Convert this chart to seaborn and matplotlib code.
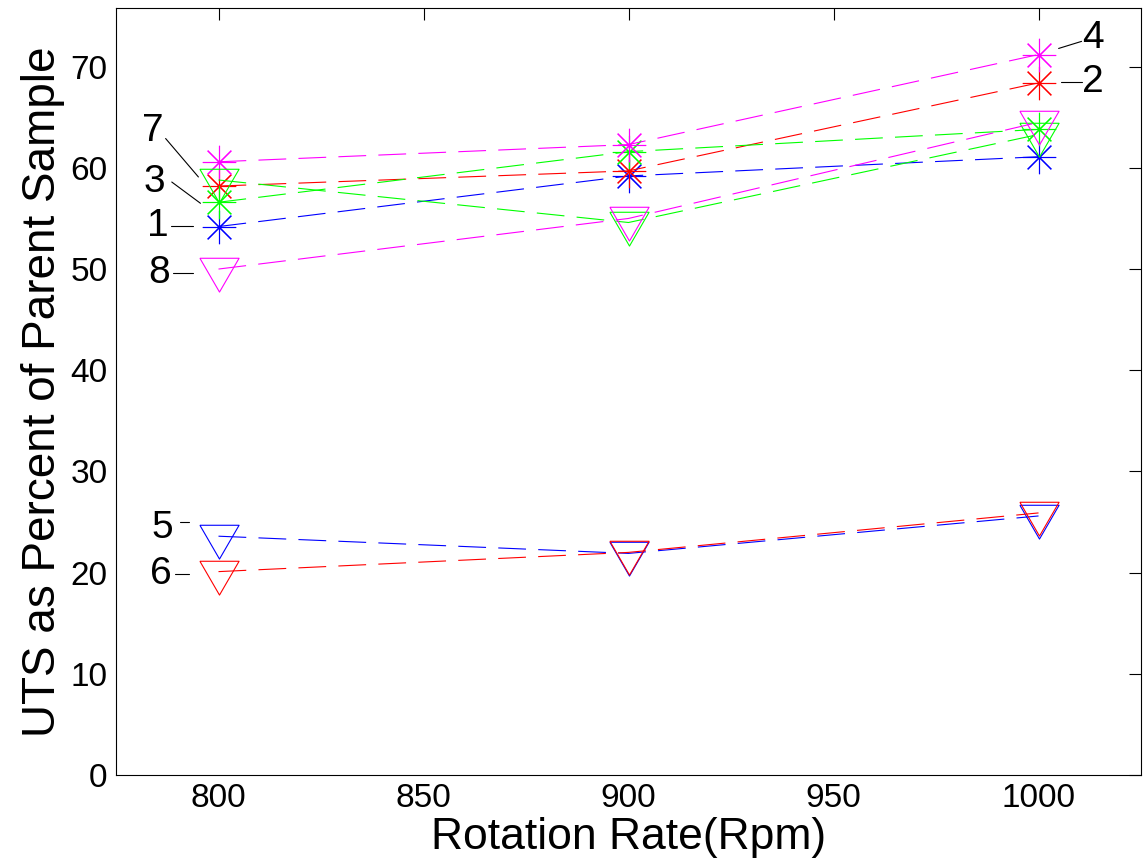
import matplotlib
matplotlib.use("Agg")
import matplotlib.pyplot as plt
import numpy as np
import pandas as pd
import seaborn as sns

# Rotation rates (rpm)
rpm = [800, 900, 1000]

# UTS as percent of parent sample, one list per sample
s1 = [54.2, 59.2, 61.1]
s2 = [58.2, 59.7, 68.4]
s3 = [56.6, 61.6, 63.8]
s4 = [60.6, 62.3, 71.2]
s5 = [23.6, 21.9, 25.6]
s6 = [20.1, 22.0, 25.9]
s7 = [58.8, 54.6, 63.3]
s8 = [50.0, 55.0, 64.5]

series_ids = ["1", "2", "3", "4", "5", "6", "7", "8"]
series_values = [s1, s2, s3, s4, s5, s6, s7, s8]
series_colors = ["#0000ff", "#ff0000", "#00ff00", "#ff00ff",
                 "#0000ff", "#ff0000", "#00ff00", "#ff00ff"]
series_kinds = ["star"] * 4 + ["tri"] * 4

x_ticks = [800, 850, 900, 950, 1000]
y_ticks = [0, 10, 20, 30, 40, 50, 60, 70]

sns.set_style("white", {"text.color": "black", "axes.labelcolor": "black",
                        "xtick.color": "black", "ytick.color": "black"})
plt.rcParams["font.family"] = ["Liberation Sans", "DejaVu Sans"]

fig = plt.figure(figsize=(11.44, 8.67), dpi=100)
ax = fig.add_axes([0.1014, 0.1061, 0.8960, 0.8847])

# downward triangle whose centroid sits on the data point
tri_marker = [(-19.7, 11.3), (19.7, 11.3), (0.0, -22.7), (-19.7, 11.3)]
star_marker = (8, 2, 0)

long = pd.DataFrame({
    "rpm": np.tile(rpm, len(series_ids)),
    "uts": np.concatenate(series_values),
    "sample": np.repeat(series_ids, len(rpm)),
})

for sid, color, kind in zip(series_ids, series_colors, series_kinds):
    sub = long[long["sample"] == sid]
    if kind == "star":
        mk, ms = star_marker, 24
    else:
        mk, ms = tri_marker, 32.5
    sns.lineplot(data=sub, x="rpm", y="uts", ax=ax, color=color,
                 linewidth=0.8, linestyle=(0, (25, 11)),
                 marker=mk, markersize=ms, markerfacecolor="none",
                 markeredgecolor=color, markeredgewidth=0.8,
                 legend=False, estimator=None, sort=False)

ax.set_xlim(775, 1025)
ax.set_ylim(0, 75.8)
ax.set_xticks(x_ticks)
ax.set_yticks(y_ticks)
ax.tick_params(direction="in", length=8.6, width=0.8, labelsize=24,
               top=True, right=True, pad=6, colors="black")
for sp in ax.spines.values():
    sp.set_linewidth(0.8)
    sp.set_color("black")

ax.set_xlabel("Rotation Rate(Rpm)", fontsize=32, labelpad=2, color="black")
ax.set_ylabel("UTS as Percent of Parent Sample", fontsize=33, labelpad=4,
              color="black")

# sample labels with thin leader lines
labels = [
    ("7", (783.9, 63.6), (787.1, 62.9), (795.1, 59.1)),
    ("3", (784.4, 58.6), (788.6, 58.6), (795.6, 56.5)),
    ("1", (785.1, 54.3), (788.3, 54.3), (793.9, 54.3)),
    ("8", (785.4, 49.6), (788.8, 49.6), (793.9, 49.6)),
    ("5", (786.4, 24.4), (790.5, 25.0), (792.9, 25.0)),
    ("6", (785.9, 19.9), (789.5, 19.9), (792.9, 19.9)),
    ("4", (1013.2, 72.8), (1010.5, 72.5), (1004.9, 71.8)),
    ("2", (1013.2, 68.5), (1010.7, 68.5), (1005.6, 68.5)),
]
for txt, tpos, l0, l1 in labels:
    ax.text(tpos[0], tpos[1], txt, fontsize=28, ha="center", va="center",
            color="black")
    ax.plot([l0[0], l1[0]], [l0[1], l1[1]], color="black", linewidth=0.8)

fig.savefig("out.png", dpi=100, facecolor="white")
